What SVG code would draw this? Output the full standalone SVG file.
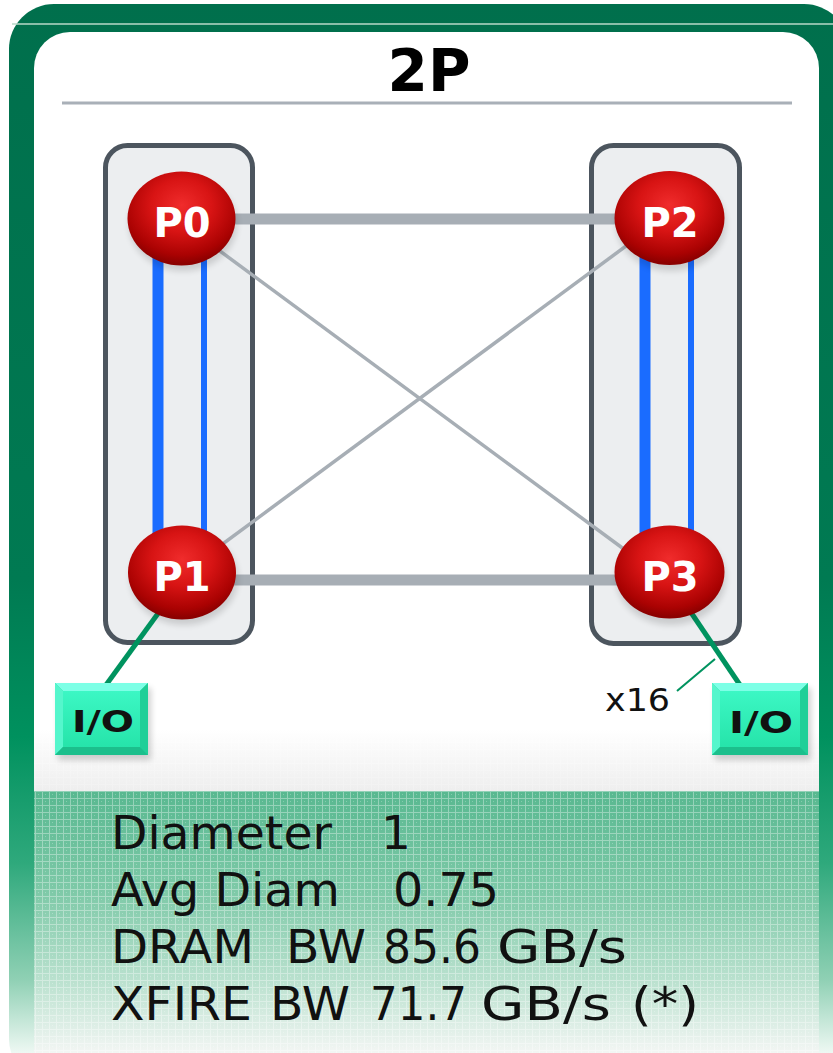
<svg xmlns="http://www.w3.org/2000/svg" width="833" height="1053" viewBox="0 0 833 1053">
  <defs>
    <linearGradient id="frameGrad" gradientUnits="userSpaceOnUse" x1="0" y1="0" x2="0" y2="1053">
      <stop offset="0" stop-color="#006f4c"/>
      <stop offset="0.55" stop-color="#007a52"/>
      <stop offset="0.7" stop-color="#00915e"/>
      <stop offset="0.82" stop-color="#2fa97c"/>
      <stop offset="0.93" stop-color="#8fd0b4"/>
      <stop offset="1" stop-color="#eef8f3"/>
    </linearGradient>
    <linearGradient id="statsGrad" gradientUnits="userSpaceOnUse" x1="0" y1="791" x2="0" y2="1053">
      <stop offset="0" stop-color="#58b890"/>
      <stop offset="0.4" stop-color="#80caa9"/>
      <stop offset="0.75" stop-color="#bfe3d2"/>
      <stop offset="1" stop-color="#f3f6f4"/>
    </linearGradient>
    <linearGradient id="hazeGrad" x1="0" y1="0" x2="0" y2="1">
      <stop offset="0" stop-color="#ffffff"/>
      <stop offset="1" stop-color="#eeeeee"/>
    </linearGradient>
    <pattern id="mesh" width="7" height="7" patternUnits="userSpaceOnUse">
      <path d="M0 0.5H7M0.5 0V7" stroke="#ffffff" stroke-width="1" opacity="0.35"/>
      <rect x="3" y="3" width="1" height="1" fill="#ffffff" opacity="0.25"/>
    </pattern>
    <radialGradient id="ballGrad" cx="0.5" cy="0.36" r="0.62">
      <stop offset="0" stop-color="#f02c2c"/>
      <stop offset="0.45" stop-color="#d81414"/>
      <stop offset="0.85" stop-color="#aa0202"/>
      <stop offset="1" stop-color="#8c0000"/>
    </radialGradient>
    <linearGradient id="ioFace" x1="0" y1="0" x2="0" y2="1">
      <stop offset="0" stop-color="#3cf7c4"/>
      <stop offset="1" stop-color="#26e4aa"/>
    </linearGradient>
    <filter id="soft" x="-30%" y="-30%" width="160%" height="160%">
      <feGaussianBlur stdDeviation="3"/>
    </filter>
    <style>
      .box { fill: #eceef0; stroke: #4c555e; stroke-width: 5; }
      .ball { fill: url(#ballGrad); }
      .shadow { fill: #000000; opacity: 0.14; filter: url(#soft); }
      .plabel { font-family: "DejaVu Sans", sans-serif; font-weight: bold; font-size: 40px; fill: #ffffff; text-anchor: middle; }
      .bar { stroke: #a7aeb5; stroke-width: 11; }
      .diag { stroke: #a7aeb5; stroke-width: 3.5; }
      .mem-thick { stroke: #1a6cff; stroke-width: 11; }
      .mem-thin { stroke: #1a6cff; stroke-width: 6; }
      .iolink { stroke: #00935f; stroke-width: 5; }
      .leader { stroke: #00935f; stroke-width: 2; }
      .iolabel { font-family: "DejaVu Sans", sans-serif; font-weight: bold; font-size: 31px; fill: #111111; }
      .stat { font-family: "DejaVu Sans", sans-serif; font-size: 47px; fill: #111111; }
    </style>
  </defs>

  <!-- frame and panel -->
  <rect x="0" y="0" width="833" height="1053" fill="#ffffff"/>
  <rect x="9" y="4" width="840" height="1080" rx="45" fill="url(#frameGrad)"/>
  <line x1="12" y1="24" x2="833" y2="24" stroke="#b9d9c9" stroke-width="1.5"/>
  <rect x="34" y="32" width="785" height="1040" rx="36" fill="#ffffff"/>
  <rect x="34" y="730" width="785" height="61" fill="url(#hazeGrad)"/>
  <rect x="34" y="730" width="785" height="61" fill="url(#mesh)" opacity="0.5"/>
  <rect x="34" y="791" width="785" height="262" fill="url(#statsGrad)"/>
  <rect x="34" y="791" width="785" height="262" fill="url(#mesh)"/>

  <!-- title -->
  <text x="429" y="91" font-family="DejaVu Sans, sans-serif" font-weight="bold" font-size="58" text-anchor="middle" fill="#000000">2P</text>
  <line x1="62" y1="103" x2="792" y2="103" stroke="#a9b0b8" stroke-width="3"/>

  <!-- socket enclosures -->
  <g id="socket-left">
    <rect class="box" x="105.5" y="145.5" width="147" height="497" rx="22"/>
  </g>
  <g id="socket-right">
    <rect class="box" x="591.5" y="145.5" width="148" height="498" rx="22"/>
  </g>

  <!-- connectors -->
  <g id="connectors">
    <line class="bar" x1="182" y1="219" x2="670" y2="219"/>
    <line class="bar" x1="182" y1="580" x2="670" y2="580"/>
    <line class="diag" x1="205" y1="240" x2="640" y2="561"/>
    <line class="diag" x1="205" y1="557" x2="645" y2="232"/>
    <line class="mem-thick" x1="158" y1="255" x2="158" y2="535"/>
    <line class="mem-thin" x1="204" y1="255" x2="204" y2="535"/>
    <line class="mem-thick" x1="645" y1="255" x2="645" y2="535"/>
    <line class="mem-thin" x1="691" y1="255" x2="691" y2="535"/>
    <line class="iolink" x1="162" y1="608" x2="106" y2="685"/>
    <line class="iolink" x1="688" y1="608" x2="740" y2="685"/>
    <line class="leader" x1="677" y1="691" x2="715" y2="659"/>
  </g>

  <!-- processors -->
  <g id="P0">
    <ellipse class="shadow" cx="183" cy="224" rx="54" ry="47"/>
    <ellipse class="ball" cx="181.5" cy="218.5" rx="54" ry="47"/>
    <text class="plabel" x="182" y="237">P0</text>
  </g>
  <g id="P2">
    <ellipse class="shadow" cx="671" cy="224" rx="55" ry="47"/>
    <ellipse class="ball" cx="669.5" cy="218" rx="55" ry="47"/>
    <text class="plabel" x="670" y="237">P2</text>
  </g>
  <g id="P1">
    <ellipse class="shadow" cx="184" cy="578" rx="54" ry="47"/>
    <ellipse class="ball" cx="182" cy="572.5" rx="54" ry="47"/>
    <text class="plabel" x="182" y="591">P1</text>
  </g>
  <g id="P3">
    <ellipse class="shadow" cx="671" cy="578" rx="55" ry="47"/>
    <ellipse class="ball" cx="669.5" cy="572" rx="55" ry="46.5"/>
    <text class="plabel" x="670" y="591">P3</text>
  </g>

  <!-- I/O hubs -->
  <g id="io-left">
    <rect x="58" y="688" width="93" height="72" fill="#000000" opacity="0.18" filter="url(#soft)"/>
    <rect x="55" y="683" width="93" height="72" fill="#22d49c"/>
    <polygon points="55,683 148,683 140,691 63,691" fill="#7dffe6"/>
    <polygon points="55,683 63,691 63,747 55,755" fill="#55f6cc"/>
    <polygon points="148,683 148,755 140,747 140,691" fill="#20cf98"/>
    <polygon points="55,755 63,747 140,747 148,755" fill="#1cbf8c"/>
    <rect x="63" y="691" width="77" height="56" fill="url(#ioFace)"/>
    <text class="iolabel" x="72" y="732" textLength="62" lengthAdjust="spacingAndGlyphs">I/O</text>
  </g>
  <g id="io-right">
    <rect x="715" y="688" width="96" height="72" fill="#000000" opacity="0.18" filter="url(#soft)"/>
    <rect x="712" y="683" width="96" height="72" fill="#22d49c"/>
    <polygon points="712,683 808,683 800,691 720,691" fill="#7dffe6"/>
    <polygon points="712,683 720,691 720,747 712,755" fill="#55f6cc"/>
    <polygon points="808,683 808,755 800,747 800,691" fill="#20cf98"/>
    <polygon points="712,755 720,747 800,747 808,755" fill="#1cbf8c"/>
    <rect x="720" y="691" width="80" height="56" fill="url(#ioFace)"/>
    <text class="iolabel" x="729" y="733" textLength="64" lengthAdjust="spacingAndGlyphs">I/O</text>
  </g>

  <text x="605" y="711" font-family="DejaVu Sans, sans-serif" font-size="32" fill="#111111" textLength="65" lengthAdjust="spacingAndGlyphs">x16</text>

  <!-- figures of merit -->
  <g id="stats">
    <text class="stat" x="111" y="849" textLength="221" lengthAdjust="spacingAndGlyphs">Diameter</text>
    <text class="stat" x="381" y="849">1</text>
    <text class="stat" x="111" y="906" textLength="229" lengthAdjust="spacingAndGlyphs">Avg Diam</text>
    <text class="stat" x="393" y="906" textLength="106" lengthAdjust="spacingAndGlyphs">0.75</text>
    <text class="stat" x="111" y="963" textLength="143" lengthAdjust="spacingAndGlyphs">DRAM</text>
    <text class="stat" x="286" y="963" textLength="80" lengthAdjust="spacingAndGlyphs">BW</text>
    <text class="stat" x="383" y="963" textLength="98" lengthAdjust="spacingAndGlyphs">85.6</text>
    <text class="stat" x="497" y="963" textLength="130" lengthAdjust="spacingAndGlyphs">GB/s</text>
    <text class="stat" x="111" y="1020" textLength="141" lengthAdjust="spacingAndGlyphs">XFIRE</text>
    <text class="stat" x="270" y="1020" textLength="80" lengthAdjust="spacingAndGlyphs">BW</text>
    <text class="stat" x="370" y="1020" textLength="97" lengthAdjust="spacingAndGlyphs">71.7</text>
    <text class="stat" x="481" y="1020" textLength="130" lengthAdjust="spacingAndGlyphs">GB/s</text>
    <text class="stat" x="631" y="1020" textLength="68" lengthAdjust="spacingAndGlyphs">(*)</text>
  </g>
</svg>
